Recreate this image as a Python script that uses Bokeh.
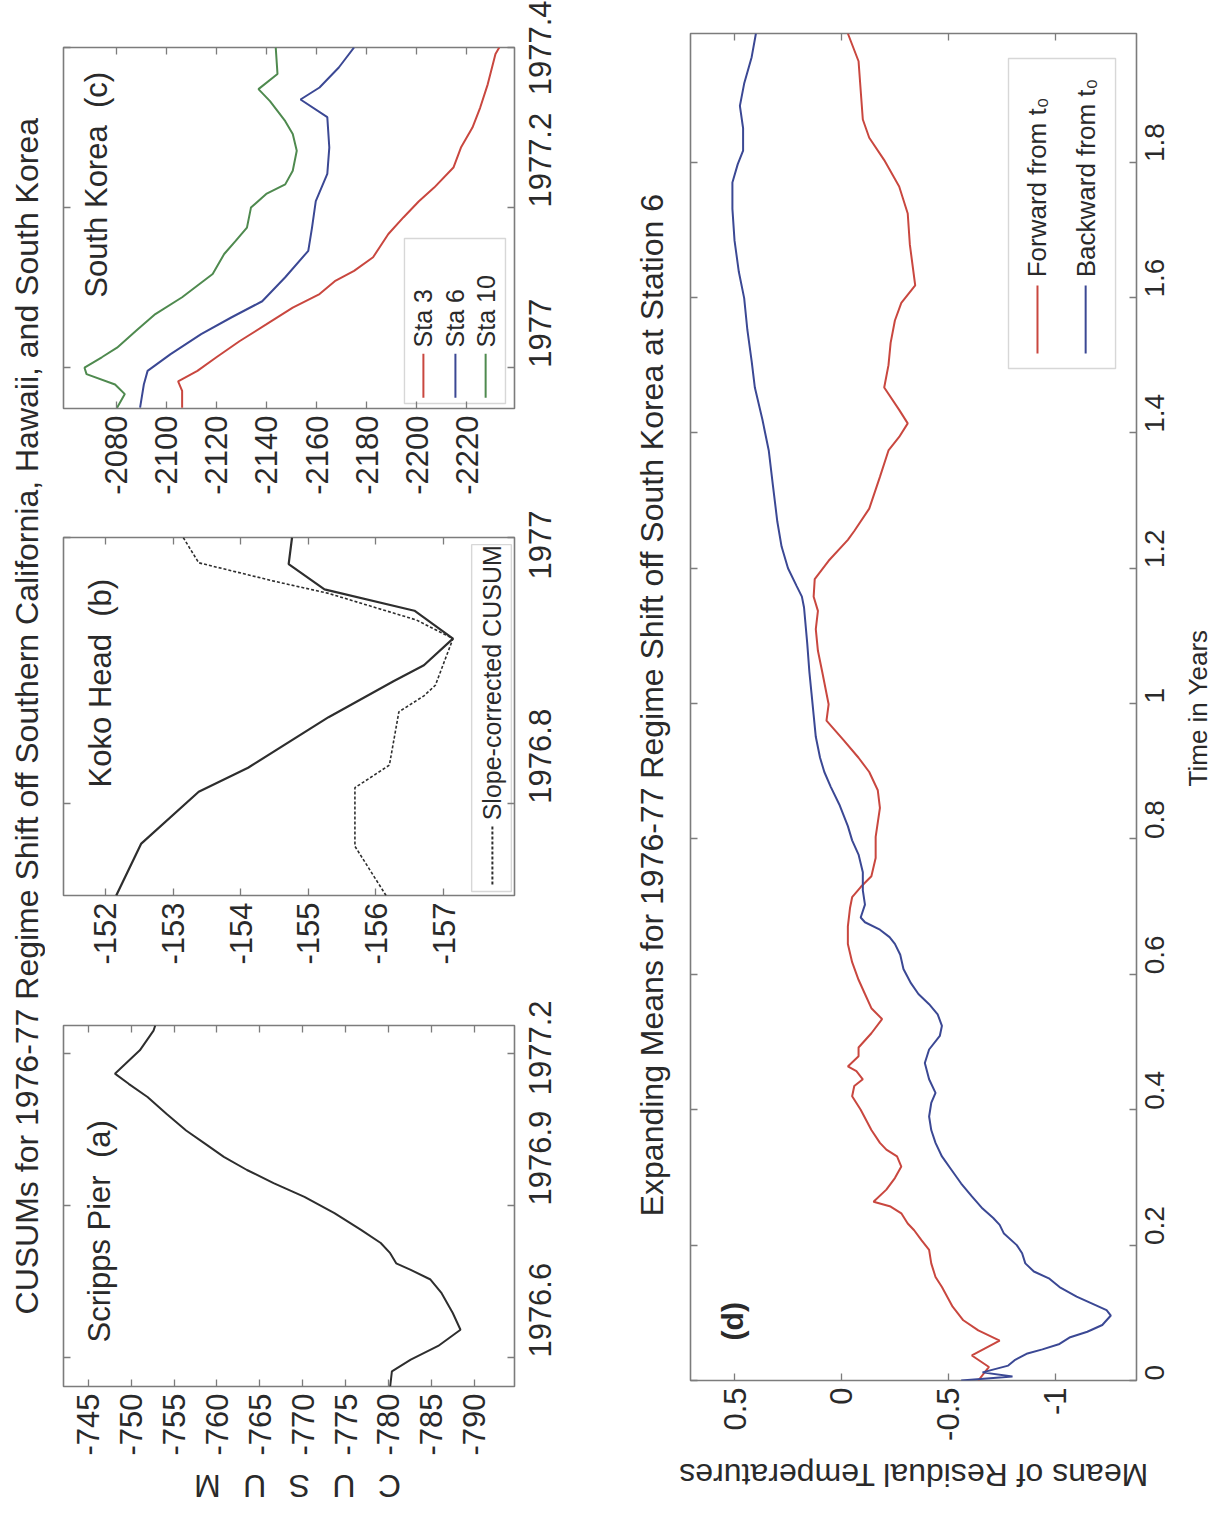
from math import pi

from bokeh.core.properties import value
from bokeh.embed import file_html
from bokeh.layouts import column, row
from bokeh.models import BoxAnnotation, FixedTicker, LinearAxis, Range1d
from bokeh.plotting import figure
from bokeh.resources import INLINE

FONT = "Liberation Sans"
INK = "#2a2a2a"
EDGE = "#7c7c7c"
BLACK = "#2e2e2e"
RED = "#c9473f"
BLUE = "#3b4894"
GREEN = "#4f8a4f"

# ---------------- (a) Scripps Pier CUSUM ----------------
scripps_time = [1976.543, 1976.573, 1976.596, 1976.623, 1976.655, 1976.688, 1976.727,
                1976.754, 1976.773, 1976.786, 1976.806, 1976.826, 1976.852, 1976.885,
                1976.917, 1976.944, 1976.970, 1976.996, 1977.022, 1977.048, 1977.081,
                1977.114, 1977.140, 1977.160, 1977.179, 1977.206, 1977.245, 1977.255]
scripps_cusum = [-780.2, -780.4, -782.6, -785.8, -788.4, -787.5, -786.2, -784.9, -782.6,
                 -780.9, -780.2, -779.1, -776.8, -773.7, -770.2, -766.6, -763.5, -760.8,
                 -758.6, -756.4, -754.1, -751.9, -749.7, -748.1, -749.3, -751.0, -752.6,
                 -752.8]

# ---------------- (b) Koko Head CUSUM ----------------
koko_time = [1976.731, 1976.770, 1976.809, 1976.827, 1976.865, 1976.892, 1976.904,
             1976.924, 1976.945, 1976.961, 1976.980, 1977.0]
koko_cusum = [-152.16, -152.53, -153.38, -154.11, -155.30, -156.26, -156.71, -157.14,
              -156.57, -155.24, -154.71, -154.76]
koko_slope_time = [1976.731, 1976.768, 1976.812, 1976.829, 1976.869, 1976.881, 1976.889,
                   1976.924, 1976.938, 1976.958, 1976.967, 1976.981, 1977.0]
koko_slope_cusum = [-156.15, -155.69, -155.69, -156.20, -156.34, -156.71, -156.88, -157.14,
                    -156.60, -155.30, -154.51, -153.38, -153.15]

# ---------------- (c) South Korea CUSUMs ----------------
sta3_time = [1976.950, 1976.971, 1976.983, 1976.996, 1977.013, 1977.033, 1977.054,
             1977.075, 1977.092, 1977.108, 1977.121, 1977.138, 1977.167, 1977.188,
             1977.208, 1977.225, 1977.250, 1977.275, 1977.300, 1977.325, 1977.354,
             1977.392, 1977.400]
sta3_cusum = [-2106.3, -2106.3, -2104.7, -2112.4, -2120.0, -2129.2, -2139.9, -2150.5,
              -2161.2, -2167.3, -2175.0, -2182.6, -2188.7, -2194.8, -2200.9, -2207.0,
              -2214.7, -2217.7, -2222.3, -2225.4, -2228.4, -2231.5, -2233.0]
sta6_time = [1976.950, 1976.979, 1976.996, 1977.017, 1977.042, 1977.063, 1977.083,
             1977.113, 1977.146, 1977.175, 1977.208, 1977.242, 1977.275, 1977.313,
             1977.335, 1977.350, 1977.375, 1977.400]
sta6_cusum = [-2089.5, -2091.0, -2092.5, -2101.7, -2113.9, -2126.1, -2138.3, -2147.5,
              -2156.7, -2158.2, -2159.7, -2164.3, -2165.1, -2164.3, -2153.6, -2161.2,
              -2168.9, -2175.0]
sta10_time = [1976.950, 1976.967, 1976.979, 1976.992, 1977.000, 1977.013, 1977.025,
              1977.046, 1977.067, 1977.088, 1977.117, 1977.142, 1977.158, 1977.175,
              1977.200, 1977.217, 1977.229, 1977.246, 1977.271, 1977.292, 1977.308,
              1977.333, 1977.348, 1977.367, 1977.400]
sta10_cusum = [-2080.3, -2083.4, -2079.5, -2068.1, -2067.3, -2074.2, -2080.3, -2087.9,
               -2095.6, -2106.3, -2118.5, -2123.1, -2127.6, -2132.2, -2133.8, -2139.9,
               -2147.5, -2150.5, -2152.1, -2150.5, -2147.5, -2141.4, -2136.8, -2144.4,
               -2143.7]

# ---------------- (d) Expanding means at Station 6 ----------------
fwd_years = [0.0, 0.020, 0.037, 0.059, 0.074, 0.089, 0.109, 0.138, 0.153, 0.173, 0.193,
             0.207, 0.222, 0.232, 0.247, 0.257, 0.264, 0.282, 0.299, 0.316, 0.331, 0.341,
             0.351, 0.370, 0.400, 0.420, 0.435, 0.445, 0.457, 0.464, 0.479, 0.492, 0.513,
             0.534, 0.550, 0.571, 0.592, 0.618, 0.645, 0.671, 0.698, 0.714, 0.729, 0.745,
             0.772, 0.803, 0.846, 0.872, 0.899, 0.920, 0.946, 0.975, 0.999, 1.047, 1.078,
             1.110, 1.137, 1.158, 1.184, 1.211, 1.242, 1.255, 1.288, 1.335, 1.374, 1.394,
             1.414, 1.434, 1.467, 1.500, 1.533, 1.566, 1.592, 1.618, 1.678, 1.724, 1.764,
             1.803, 1.836, 1.863, 1.949, 1.990]
fwd_mean = [-0.64, -0.69, -0.61, -0.74, -0.64, -0.57, -0.52, -0.47, -0.44, -0.42, -0.41,
            -0.375, -0.34, -0.31, -0.28, -0.23, -0.15, -0.21, -0.25, -0.28, -0.26, -0.21,
            -0.18, -0.14, -0.09, -0.05, -0.06, -0.10, -0.07, -0.03, -0.08, -0.08, -0.14,
            -0.19, -0.14, -0.11, -0.08, -0.05, -0.03, -0.03, -0.04, -0.05, -0.09, -0.14,
            -0.16, -0.16, -0.18, -0.17, -0.13, -0.08, -0.01, 0.07, 0.06, 0.09, 0.11,
            0.12, 0.11, 0.13, 0.125, 0.06, -0.03, -0.06, -0.13, -0.18, -0.22, -0.27,
            -0.31, -0.27, -0.20, -0.22, -0.23, -0.25, -0.28, -0.345, -0.32, -0.31, -0.27,
            -0.20, -0.13, -0.10, -0.08, -0.03]
bwd_years = [0.0, 0.006, 0.012, 0.022, 0.030, 0.040, 0.046, 0.054, 0.064, 0.072, 0.082,
             0.096, 0.104, 0.114, 0.124, 0.138, 0.151, 0.161, 0.173, 0.188, 0.200, 0.217,
             0.230, 0.240, 0.254, 0.272, 0.291, 0.311, 0.331, 0.351, 0.370, 0.390, 0.410,
             0.425, 0.445, 0.469, 0.489, 0.509, 0.524, 0.541, 0.556, 0.571, 0.587, 0.608,
             0.629, 0.645, 0.655, 0.666, 0.677, 0.684, 0.703, 0.724, 0.751, 0.777, 0.798,
             0.819, 0.851, 0.877, 0.899, 0.920, 0.951, 0.983, 1.015, 1.047, 1.089, 1.142,
             1.158, 1.174, 1.200, 1.232, 1.269, 1.321, 1.374, 1.420, 1.467, 1.506, 1.552,
             1.599, 1.638, 1.684, 1.731, 1.770, 1.797, 1.817, 1.850, 1.883, 1.916, 1.955,
             1.990]
bwd_mean = [-0.56, -0.80, -0.66, -0.78, -0.81, -0.87, -0.94, -1.02, -1.07, -1.15, -1.22,
            -1.26, -1.24, -1.17, -1.10, -1.02, -0.97, -0.90, -0.86, -0.845, -0.82, -0.76,
            -0.74, -0.71, -0.66, -0.61, -0.56, -0.515, -0.47, -0.44, -0.42, -0.41, -0.42,
            -0.44, -0.41, -0.39, -0.41, -0.46, -0.47, -0.45, -0.41, -0.36, -0.325, -0.29,
            -0.275, -0.25, -0.225, -0.18, -0.11, -0.09, -0.11, -0.10, -0.10, -0.08, -0.05,
            -0.03, 0.01, 0.05, 0.08, 0.10, 0.12, 0.13, 0.14, 0.15, 0.16, 0.175, 0.185,
            0.21, 0.25, 0.28, 0.30, 0.32, 0.34, 0.37, 0.405, 0.42, 0.44, 0.455, 0.48,
            0.50, 0.51, 0.51, 0.485, 0.46, 0.46, 0.475, 0.455, 0.42, 0.40]

# ---------------- ticks ----------------
a_cusum_ticks = [-745, -750, -755, -760, -765, -770, -775, -780, -785, -790]
a_time_ticks = [1976.6, 1976.9, 1977.2]
a_time_labels = ["1976.6", "1976.9", "1977.2"]
b_cusum_ticks = [-152, -153, -154, -155, -156, -157]
b_time_ticks = [1976.8, 1977.0]
b_time_labels = ["1976.8", "1977"]
c_cusum_ticks = [-2080, -2100, -2120, -2140, -2160, -2180, -2200, -2220]
c_time_ticks = [1977.0, 1977.2, 1977.4]
c_time_labels = ["1977", "1977.2", "1977.4"]
d_mean_ticks = [0.5, 0.0, -0.5, -1.0]
d_mean_labels = ["0.5", "0", "-0.5", "-1"]
d_year_ticks = [0.0, 0.2, 0.4, 0.6, 0.8, 1.0, 1.2, 1.4, 1.6, 1.8]
d_year_labels = ["0", "0.2", "0.4", "0.6", "0.8", "1", "1.2", "1.4", "1.6", "1.8"]

TICK_FONT = "31px"
TEXT_FONT = "31px"


def make_panel(width, height, x_lim, y_lim, borders, x_ticks, x_labels, y_ticks, y_labels,
               side_standoff, side_font=TICK_FONT):
    left, right, top, bottom = borders
    p = figure(width=width, height=height, x_range=Range1d(*x_lim), y_range=Range1d(*y_lim),
               x_axis_location=None, y_axis_location=None,
               output_backend="svg", toolbar_location=None,
               min_border_left=left, min_border_right=right,
               min_border_top=top, min_border_bottom=bottom)
    p.grid.visible = False
    p.outline_line_color = EDGE
    p.outline_line_width = 1.6
    p.background_fill_color = "white"
    p.border_fill_color = "white"
    for side, ticks, labels in (("below", x_ticks, x_labels), ("above", x_ticks, None),
                                ("right", y_ticks, y_labels), ("left", y_ticks, None)):
        ax = LinearAxis(ticker=FixedTicker(ticks=ticks))
        ax.axis_line_color = None
        ax.major_tick_in = 7
        ax.major_tick_out = 0
        ax.major_tick_line_color = EDGE
        ax.major_tick_line_width = 1.3
        ax.minor_tick_line_color = None
        if labels is None:
            ax.major_label_overrides = {t: "" for t in ticks}
            ax.major_label_text_font_size = "0px"
            ax.major_label_standoff = 0
        else:
            ax.major_label_overrides = dict(zip(ticks, labels))
            ax.major_label_orientation = pi / 2
            ax.major_label_text_font = FONT
            ax.major_label_text_color = INK
            if side == "below":
                ax.major_label_text_font_size = TICK_FONT
                ax.major_label_standoff = 7
            else:
                ax.major_label_text_font_size = side_font
                ax.major_label_standoff = side_standoff
        p.add_layout(ax, side)
    return p


def fx(p, f):
    r = p.x_range
    return r.start + f * (r.end - r.start)


def fy(p, f):
    # f is measured downward from the top edge of the frame
    r = p.y_range
    return r.end - f * (r.end - r.start)


def put_text(p, x, y, s, size=TEXT_FONT, align="left", baseline="middle", angle=pi / 2,
             style="normal"):
    p.text(x=[x], y=[y], text=[s], angle=angle, text_font=value(FONT),
           text_font_size=size, text_color=INK, text_align=align,
           text_baseline=baseline, text_font_style=style)


def band(width, height):
    p = figure(width=width, height=height, x_range=Range1d(0, width), y_range=Range1d(0, height),
               x_axis_location=None, y_axis_location=None, output_backend="svg",
               toolbar_location=None, min_border=0)
    p.grid.visible = False
    p.outline_line_color = None
    p.background_fill_color = "white"
    p.border_fill_color = "white"
    return p


def legend_box(p, f_left, f_right, f_top, f_bottom):
    p.add_layout(BoxAnnotation(left=fx(p, f_left), right=fx(p, f_right),
                               top=fy(p, f_top), bottom=fy(p, f_bottom),
                               fill_color="white", fill_alpha=1.0,
                               line_color=EDGE, line_width=1.4, level="underlay"))


def legend_entry(p, f_x, f_line_top, f_line_bottom, f_text, label, color, dash="solid",
                 size="25px"):
    p.line(x=[fx(p, f_x), fx(p, f_x)], y=[fy(p, f_line_top), fy(p, f_line_bottom)],
           line_color=color, line_width=2, line_dash=dash)
    put_text(p, fx(p, f_x), fy(p, f_text), label, size=size)


ROW_H = 1458
LEFT_STANDOFF = 26

# (c) South Korea
fc = make_panel(555, 510, (-2058.9, -2239.1), (1976.949, 1977.4), (18, 86, 47, 102),
                c_cusum_ticks, [str(v) for v in c_cusum_ticks], c_time_ticks, c_time_labels,
                LEFT_STANDOFF)
fc.line(sta3_cusum, sta3_time, line_color=RED, line_width=2)
fc.line(sta6_cusum, sta6_time, line_color=BLUE, line_width=2)
fc.line(sta10_cusum, sta10_time, line_color=GREEN, line_width=2)
put_text(fc, fx(fc, 0.074), fy(fc, 0.693), "South Korea\u00a0\u00a0(c)")
legend_box(fc, 0.756, 0.98, 0.529, 0.986)
legend_entry(fc, 0.798, 0.848, 0.970, 0.831, "Sta 3", RED)
legend_entry(fc, 0.869, 0.848, 0.970, 0.831, "Sta 6", BLUE)
legend_entry(fc, 0.936, 0.848, 0.970, 0.831, "Sta 10", GREEN)

# (b) Koko Head
fb = make_panel(555, 490, (-151.38, -158.05), (1976.731, 1977.0), (18, 86, 27, 105),
                b_cusum_ticks, [str(v) for v in b_cusum_ticks], b_time_ticks, b_time_labels,
                LEFT_STANDOFF)
fb.line(koko_cusum, koko_time, line_color=BLACK, line_width=2.2)
fb.line(koko_slope_cusum, koko_slope_time, line_color=BLACK, line_width=1.6, line_dash="3 2")
put_text(fb, fx(fb, 0.081), fy(fb, 0.698), "Koko Head\u00a0\u00a0(b)")
legend_box(fb, 0.905, 0.993, 0.02, 0.989)
legend_entry(fb, 0.951, 0.807, 0.972, 0.79, "Slope-corrected CUSUM", BLACK, dash="3 2")

# (a) Scripps Pier
fa = make_panel(555, 458, (-742.1, -794.7), (1976.543, 1977.255), (18, 86, 25, 71),
                a_cusum_ticks, [str(v) for v in a_cusum_ticks], a_time_ticks, a_time_labels,
                LEFT_STANDOFF)
fa.line(scripps_cusum, scripps_time, line_color=BLACK, line_width=2)
put_text(fa, fx(fa, 0.079), fy(fa, 0.878), "Scripps Pier\u00a0\u00a0(a)")

# (d) Expanding means
D_WIDTH = 496
fd = make_panel(D_WIDTH, ROW_H, (0.706, -1.38), (0.0, 1.99), (4, D_WIDTH - 450, 33, 78),
                d_mean_ticks, d_mean_labels, d_year_ticks, d_year_labels, 18,
                side_font="28px")
fd.line(fwd_mean, fwd_years, line_color=RED, line_width=2)
fd.line(bwd_mean, bwd_years, line_color=BLUE, line_width=2)
put_text(fd, fx(fd, 0.094), fy(fd, 0.956), "(d)", size="30px", align="center", style="bold")
legend_box(fd, 0.713, 0.953, 0.0186, 0.2487)
legend_entry(fd, 0.778, 0.187, 0.2376, 0.181, "Forward from t\u2080", RED, size="26px")
legend_entry(fd, 0.886, 0.187, 0.2376, 0.181, "Backward from t\u2080", BLUE, size="26px")

# Titles and axis names set in narrow bands around the panels
left_title = band(45, ROW_H)
put_text(left_title, 26, ROW_H - 739,
         "CUSUMs for 1976-77 Regime Shift off Southern California, Hawaii, and South Korea",
         size="32px", align="center")

mid_title = band(86, ROW_H)
put_text(mid_title, 51, ROW_H - 727,
         "Expanding Means for 1976-77 Regime Shift off South Korea at Station 6",
         size="32px", align="center")

RIGHT_W = 1213 - 686 - D_WIDTH
right_name = band(RIGHT_W, ROW_H)
put_text(right_name, RIGHT_W / 2, ROW_H - 730, "Time in Years", size="26px", align="center")

bottom = band(1213, 1515 - ROW_H)
put_text(bottom, 297, 1515 - 1485, "C\u2002\u2009U\u2002\u2009S\u2002\u2009U\u2002\u2009M",
         size="32px", align="center", angle=pi)
put_text(bottom, 913, 1515 - 1474, "Means of Residual Temperatures", size="32px",
         align="center", angle=pi)

page = column(row(left_title, column(fc, fb, fa), mid_title, fd, right_name), bottom)

open("out.html", "w").write(file_html(page, INLINE))
